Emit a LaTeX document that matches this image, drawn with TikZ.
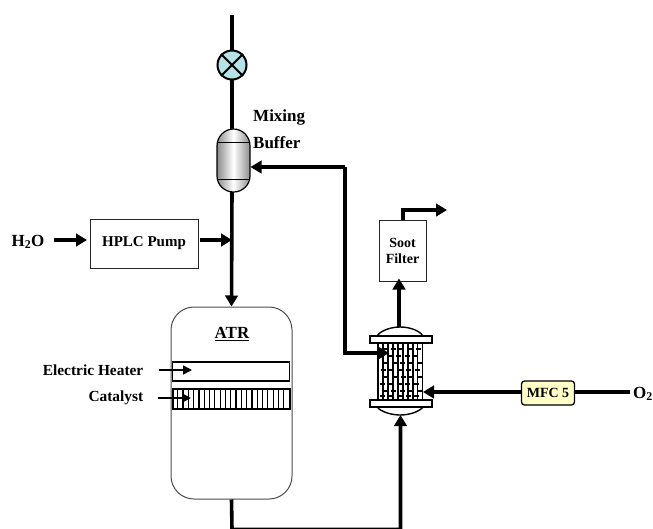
\documentclass[tikz,border=0pt]{standalone}
\usepackage{fontspec}
\setmainfont{Liberation Serif}
\usetikzlibrary{arrows.meta,positioning,calc}
\definecolor{valvecol}{HTML}{B5E2E4}
\definecolor{mfccol}{HTML}{FFFFC8}
\tikzset{
 pipe/.style={line width=3.6pt,draw=black,-{Triangle[length=11pt,width=12.5pt]}},
 plainpipe/.style={line width=3.6pt,draw=black},
 thinarrow/.style={line width=1.7pt,draw=black,-{Triangle[length=9pt,width=9pt]}},
 lab/.style={font=\bfseries\fontsize{15.4}{17}\selectfont,inner sep=0pt,align=center},
 labb/.style={font=\bfseries\fontsize{17}{19}\selectfont,inner sep=0pt,align=center},
 boxn/.style={draw=black!85,line width=1pt,fill=white,inner sep=0pt,align=center,font=\bfseries\fontsize{15}{17}\selectfont},
}
\begin{document}
\begin{tikzpicture}[x=1pt,y=-1pt]
\useasboundingbox (0,0) rectangle (653,528);
\coordinate (top) at (232,15);
\coordinate (bufin) at (345,167);
\coordinate (hxin) at (345,353);
\coordinate (tubetip) at (389,353);
\coordinate (atrout) at (232,529.3);
\coordinate (hxfeed) at (400.5,529.3);
\coordinate (exit1) at (403,210);
\coordinate (exit2) at (447,210);
% main line
\draw[plainpipe] (top) -- (232,130);
\node[draw=black,line width=2pt,fill=valvecol,circle,minimum size=29pt,inner sep=0pt] (valve) at (232,65) {};
\draw[line width=2pt] (valve.north west) -- (valve.south east) (valve.north east) -- (valve.south west);
\node[boxn,minimum width=108pt,minimum height=49pt] (hplc) at (144,243.5) {HPLC Pump};
\node[labb] (water) at (28,242) {H\textsubscript{2}O};
\coordinate (mainj) at (232,240);
\draw[pipe] (54,240) -- (87,240);
\draw[pipe] (200,240) -- (mainj);
% ATR
\node[draw=black!70,line width=1pt,fill=white,rounded corners=23pt,minimum width=121pt,minimum height=192pt,inner sep=0pt] (atr) at (231.5,403) {};
\draw[pipe] (232,190) -- (atr.north);
\node[labb] (atrlab) at (232,334) {\underline{ATR}};
\node[draw=black,line width=1.4pt,fill=white,minimum width=117pt,minimum height=19pt,inner sep=0pt] (heater) at (231,371.5) {};
\node[draw=black,line width=1.2pt,fill=white,minimum width=117pt,minimum height=20pt,inner sep=0pt] (cat) at (231.5,399) {};
\foreach \i in {0,...,21} \draw[line width=1.2pt] ($(cat.south west)+(5.3*\i,0)$) -- ($(cat.north west)+(5.3*\i,0)$);
\node[lab,anchor=east] (ehl) at (143.5,370) {Electric Heater};
\node[lab,anchor=east] (catl) at (143.5,398) {Catalyst};
\draw[thinarrow] (159,370) -- (192,370);
\draw[thinarrow] (158,398) -- (191,398);
% buffer vessel
\draw[line width=1.2pt,left color=black!45,right color=black!45,middle color=white] (217,146) arc[start angle=180,end angle=360,x radius=16.5,y radius=17] -- (250,176) arc[start angle=0,end angle=180,x radius=16.5,y radius=16] -- cycle;
\draw[line width=1pt] (217,142) -- (250,142) (217,179) -- (250,179);
\coordinate (bufe) at (250.5,167);
\node[labb,anchor=west] (mix) at (253,117) {Mixing};
\node[labb,anchor=west] (buf) at (253,143) {Buffer};
\draw[pipe] (bufin) -- (bufe);
% heat exchanger
\foreach \i in {0,...,9} \draw[line width=1.7pt] (378+4.95*\i,343) -- (378+4.95*\i,400);
\draw[line width=1.4pt,fill=white] (377,336) .. controls (381,330) and (392,327) .. (400,327) .. controls (409,327) and (419,330) .. (423,336) -- cycle;
\draw[line width=1.4pt,fill=white] (377,407) .. controls (381,412) and (392,415) .. (400,415) .. controls (409,415) and (419,412) .. (423,407) -- cycle;
\node[draw=black,line width=1.4pt,fill=white,minimum width=62pt,minimum height=7pt,inner sep=0pt] (flt) at (401,339.5) {};
\node[draw=black,line width=1.4pt,fill=white,minimum width=62pt,minimum height=7pt,inner sep=0pt] (flb) at (401,403.5) {};
\foreach \y/\s in {349/3,356/0,363/4,370/1.5,377/4.5,384/0.5,391/3.5,396/1}{
  \foreach \i in {0,...,4} \draw[line width=1.3pt] (379+\s+8.6*\i,\y) -- (384+\s+8.6*\i,\y);
}
\draw[line width=3.6pt,-{Triangle[length=11pt,width=12.5pt]}] (bufin) -- (hxin) -- (tubetip);
% soot filter
\node[boxn,minimum width=47pt,minimum height=61pt,font=\bfseries\fontsize{14}{16}\selectfont] (soot) at (402.5,250.5) {Soot\\Filter};
\draw[pipe,shorten >=-3pt] (399,327) -- (soot.south -| 399,0);
\draw[line width=3.6pt,-{Triangle[length=11pt,width=12.5pt]}] (soot.north -| exit1) -- (exit1) -- (exit2);
% feed to exchanger
\draw[line width=3.6pt,-{Triangle[length=11pt,width=12.5pt]}] (atr.south) -- (atrout) -- (hxfeed) -- (400.5,415);
% MFC
\node[draw=black,line width=1.3pt,fill=mfccol,rounded corners=3pt,minimum width=53pt,minimum height=24pt,inner sep=0pt,font=\bfseries\fontsize{14}{16}\selectfont] (mfc) at (548,393) {MFC 5};
\node[labb] (oxy) at (643,394) {O\textsubscript{2}};
\draw[plainpipe] (630,392) -- (mfc.east |- 0,392);
\draw[line width=3.6pt,-{Triangle[length=11pt,width=12.5pt]}] (mfc.west |- 0,392) -- (423,392);
\end{tikzpicture}
\end{document}
